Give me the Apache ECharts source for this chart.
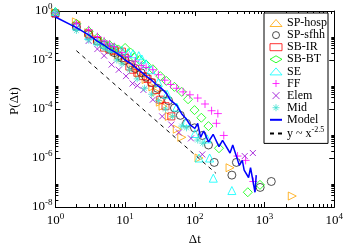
<!DOCTYPE html>
<html>
<head>
<meta charset="utf-8">
<script src="https://cdn.jsdelivr.net/npm/echarts@6/dist/echarts.min.js"></script>
<style>
html, body {margin: 0; padding: 0; background: #fff;}
#main {width: 346px; height: 251px;}
</style>
</head>
<body>
<div id="main"></div>
<script>
// [dt, P(dt)]
var spHosp = [[1,0.85],[2,0.36],[3,0.13],[4,0.07],[5,0.045],[6,0.03],[7,0.022],[8,0.016],[9,0.012],[10,0.0095],[13,0.005],[16,0.0028],[20,0.0016],[25,8e-4],[28,5e-4],[32,1.9e-4],[35,1.3e-4],[43,5e-5],[56,1.5e-5],[65,7e-6],[115,1e-6],[320,4e-7],[2500,2.8e-8]];
var spSfhh = [[1,0.8],[2,0.22],[3,0.11],[4,0.06],[5,0.04],[6,0.028],[7,0.02],[8,0.015],[9,0.012],[10,0.0095],[12,0.0065],[14,0.0045],[17,0.003],[20,0.002],[24,0.0012],[29,7e-4],[35,4e-4],[42,2.2e-4],[51,1.1e-4],[62,5.5e-5],[76,2.6e-5],[99,1.7e-5],[128,8.3e-6],[157,3.4e-6],[190,6.6e-7],[340,2e-7],[395,6.6e-7],[865,6.3e-8],[1250,1.1e-7]];
var sbIR = [[1,0.8],[2,0.25],[3,0.12],[4,0.06],[5,0.032],[6,0.026],[7,0.024],[9,0.022],[10,0.012],[11.5,0.0054],[13,0.004],[15,0.003],[18,0.0022],[21,0.0017],[24,0.0012],[28,6e-4],[32,2.4e-4],[38,1.3e-4],[46,5e-5]];
var sbBT = [[1,0.9],[2,0.3],[3,0.15],[4,0.08],[5,0.05],[6,0.04],[7,0.032],[8,0.027],[10,0.031],[12,0.02],[13.5,0.013],[16,0.01],[20,0.0065],[25,0.0042],[32,0.0022],[39,0.0014],[51,8e-4],[65,5e-4],[80,2.5e-4],[99,9e-5],[124,4.4e-5],[157,2e-5],[222,2.5e-6],[575,4e-8],[860,8e-8]];
var se = [[1,0.95],[2,0.25],[3,0.1],[4,0.06],[5,0.045],[6,0.035],[7,0.03],[9,0.025],[11,0.02],[13,0.018],[15.7,0.015],[17.4,0.011],[20,0.007],[23.6,0.004],[30,0.0012],[40,4e-4],[55,1.2e-4],[75,3e-5],[100,1e-5],[115,1e-6],[150,6e-6],[163,1e-6],[184,1.5e-7],[340,4.7e-8]];
var ff = [[1,0.85],[2,0.3],[3,0.17],[4,0.09],[5,0.06],[6,0.045],[7,0.035],[9,0.02],[11,0.014],[14,0.009],[17,0.006],[20,0.005],[25,0.004],[30,0.0025],[37,0.0015],[45,0.001],[55,7e-4],[68,5e-4],[85,3.8e-4],[110,2.8e-4],[140,1.6e-4],[174,8.5e-5],[214,6.5e-5],[204,2.6e-5],[260,8.3e-6],[410,1.2e-6],[535,8e-7],[690,1.1e-7]];
var elem = [[1,0.7],[2,0.2],[3,0.06],[4,0.028],[5,0.015],[6.4,0.0065],[8.1,0.004],[10.3,0.0022],[12.8,0.0011],[15,9e-4],[18.3,6e-4],[25,2.4e-4],[34,5e-5],[46,2.3e-5],[59,1.1e-5],[88,6.3e-6],[128,1.4e-6],[520,1.2e-6],[680,1.6e-6]];
var mid = [[1,0.9],[2,0.16],[3,0.065],[4,0.045],[5,0.03],[6,0.022],[7.6,0.01],[9,0.007],[11.6,0.004],[14.9,0.0017],[19,7e-4],[24,4e-4],[30,2.2e-4],[38,1e-4],[48,5e-5],[65,2e-5],[76,1.7e-5],[110,5.4e-6],[130,4e-6]];
var model = [[1,0.57],[2,0.21],[3,0.107],[4,0.059],[5,0.04],[6,0.028],[7,0.022],[8,0.017],[9,0.013],[10,0.01],[12,0.0072],[14,0.005],[17,0.0033],[20,0.0022],[24,0.0015],[28,0.001],[34,6.5e-4],[40,4e-4],[44,2.4e-4],[55,1.4e-4],[65,6.3e-5],[75,4e-5],[85,2.3e-5],[100,1.6e-5],[110,2.6e-5],[121,7e-6],[134,1.26e-5],[157,4.5e-6],[183,9.3e-6],[222,2.9e-6],[250,5.2e-6],[320,1.6e-6],[350,3.4e-6],[435,5e-7],[480,8e-7],[510,3.2e-7],[590,1.6e-7],[630,4e-7],[730,4e-8],[760,2e-7]];
var powerLaw = [[2,0.024],[200,2.4e-7]];

var xMinorTicks = [2,3,4,5,6,7,8,9,20,30,40,50,60,70,80,90,200,300,400,500,600,700,800,900,2000,3000,4000,5000,6000,7000,8000,9000];
var yMajorTicks = [1, 1e-2, 1e-4, 1e-6, 1e-8];
var yMinorTicks = [2e-8,3e-8,4e-8,5e-8,6e-8,7e-8,8e-8,9e-8,2e-6,3e-6,4e-6,5e-6,6e-6,7e-6,8e-6,9e-6,2e-4,3e-4,4e-4,5e-4,6e-4,7e-4,8e-4,9e-4,2e-2,3e-2,4e-2,5e-2,6e-2,7e-2,8e-2,9e-2];

var FONT = 'Liberation Serif';
var PLUS = 'path://M5,0L5,10M0,5L10,5';
var CROSS = 'path://M0,0L10,10M10,0L0,10';
var STAR = 'path://M5,0L5,10M0,5L10,5M1.5,1.5L8.5,8.5M8.5,1.5L1.5,8.5';

var chart = echarts.init(document.getElementById('main'), null, {renderer: 'canvas'});

function powLabel(v) {
    var e = Math.round(Math.log10(v));
    return '{b|10}{s|' + e + '}';
}

function powLabelEven(v) {
    var e = Math.round(Math.log10(v));
    if (e % 2 !== 0) return '';
    return '{b|10}{s|' + e + '}';
}

var labelRich = {
    b: {fontFamily: FONT, fontSize: 13, color: '#000'},
    s: {fontFamily: FONT, fontSize: 9, color: '#000', padding: [0, 0, 8, 0]}
};

function scatter(name, data, symbol, size, color, rotate) {
    return {
        name: name, type: 'scatter', data: data,
        symbol: symbol, symbolSize: size, symbolRotate: rotate || 0,
        itemStyle: {color: 'transparent', borderColor: color, borderWidth: 1},
        silent: true
    };
}

function minorX(params, api) {
    var x = Math.round(api.coord([api.value(0), 1])[0]) + 0.5;
    var cs = params.coordSys;
    var st = {stroke: '#000', lineWidth: 1};
    return {type: 'group', children: [
        {type: 'line', shape: {x1: x, y1: cs.y + cs.height, x2: x, y2: cs.y + cs.height - 3}, style: st},
        {type: 'line', shape: {x1: x, y1: cs.y, x2: x, y2: cs.y + 3}, style: st}
    ]};
}

function tickY(len) {
    return function (params, api) {
        var y = Math.round(api.coord([1, api.value(0)])[1]) + 0.5;
        var cs = params.coordSys;
        var st = {stroke: '#000', lineWidth: 1};
        return {type: 'group', children: [
            {type: 'line', shape: {x1: cs.x, y1: y, x2: cs.x + len, y2: y}, style: st},
            {type: 'line', shape: {x1: cs.x + cs.width, y1: y, x2: cs.x + cs.width - len, y2: y}, style: st}
        ]};
    };
}

var axisCommon = {
    type: 'log', logBase: 10,
    axisLine: {lineStyle: {color: '#000', width: 1}},
    axisTick: {inside: true, length: 5, lineStyle: {color: '#000'}},
    splitLine: {show: false}
};

var lineLegendStyle = {color: 'transparent', borderColor: 'transparent', borderWidth: 0};

var option = {
    animation: false,
    backgroundColor: '#fff',
    grid: {left: 37, top: 11, right: 9, bottom: 32},
    legend: {
        data: ['SP-hosp', 'SP-sfhh', 'SB-IR', 'SB-BT', 'SE', 'FF', 'Elem', 'Mid', 'Model', 'y ~ x^-2.5'],
        orient: 'vertical', left: 264, top: 13,
        padding: [4, 1, 4, 5],
        itemWidth: 12, itemHeight: 7, itemGap: 0.1,
        backgroundColor: '#fff', borderColor: '#000', borderWidth: 1, borderRadius: 0,
        itemStyle: {borderWidth: 1},
        formatter: function (name) {
            if (name === 'y ~ x^-2.5') return 'y ~ x{s|-2.5}';
            return name;
        },
        textStyle: {
            fontFamily: FONT, fontSize: 12, color: '#000', lineHeight: 12,
            rich: {s: {fontFamily: FONT, fontSize: 8, color: '#000', padding: [0, 0, 7, 0]}}
        }
    },
    xAxis: [
        Object.assign({}, axisCommon, {
            min: 1, max: 10000, splitNumber: 4,
            name: 'Δt', nameLocation: 'middle', nameGap: 26,
            nameTextStyle: {fontFamily: FONT, fontSize: 13, color: '#000'},
            axisLabel: {formatter: powLabel, rich: labelRich, margin: 5}
        }),
        Object.assign({}, axisCommon, {
            position: 'top', min: 1, max: 10000, splitNumber: 4,
            axisLabel: {show: false}
        })
    ],
    yAxis: [
        Object.assign({}, axisCommon, {
            min: 1e-8, max: 1, splitNumber: 8,
            axisTick: {show: false},
            name: 'P(Δt)', nameLocation: 'middle', nameGap: 24,
            nameTextStyle: {fontFamily: FONT, fontSize: 13, color: '#000', padding: [0, 0, 0, 16]},
            axisLabel: {formatter: powLabelEven, rich: labelRich, margin: 3}
        }),
        Object.assign({}, axisCommon, {
            position: 'right', min: 1e-8, max: 1, splitNumber: 8,
            axisTick: {show: false},
            axisLabel: {show: false}
        })
    ],
    series: [
        scatter('SP-hosp', spHosp, 'triangle', 8, '#ffa500', -90),
        scatter('SP-sfhh', spSfhh, 'circle', 8, '#222'),
        scatter('SB-IR', sbIR, 'rect', 7, '#ff0000'),
        scatter('SB-BT', sbBT, 'diamond', 9, '#00ff00'),
        scatter('SE', se, 'triangle', 8, '#00ffff'),
        scatter('FF', ff, PLUS, 8, '#ff00ff'),
        scatter('Elem', elem, CROSS, 6, '#9400d3'),
        scatter('Mid', mid, STAR, 7, '#40e0d0'),
        {
            name: 'Model', type: 'line', data: model, symbol: 'none', silent: true,
            lineStyle: {color: '#0000ff', width: 1.5}, itemStyle: lineLegendStyle
        },
        {
            name: 'y ~ x^-2.5', type: 'line', data: powerLaw, symbol: 'none', silent: true,
            lineStyle: {color: '#000', width: 1, type: [4, 4]}, itemStyle: lineLegendStyle
        },
        {type: 'custom', data: xMinorTicks.map(function (v) { return [v, 1]; }), renderItem: minorX, silent: true, clip: false},
        {type: 'custom', data: yMajorTicks.map(function (v) { return [v]; }), renderItem: tickY(5), silent: true, clip: false},
        {type: 'custom', data: yMinorTicks.map(function (v) { return [v]; }), renderItem: tickY(3), silent: true, clip: false}
    ]
};

chart.setOption(option);
</script>
</body>
</html>
